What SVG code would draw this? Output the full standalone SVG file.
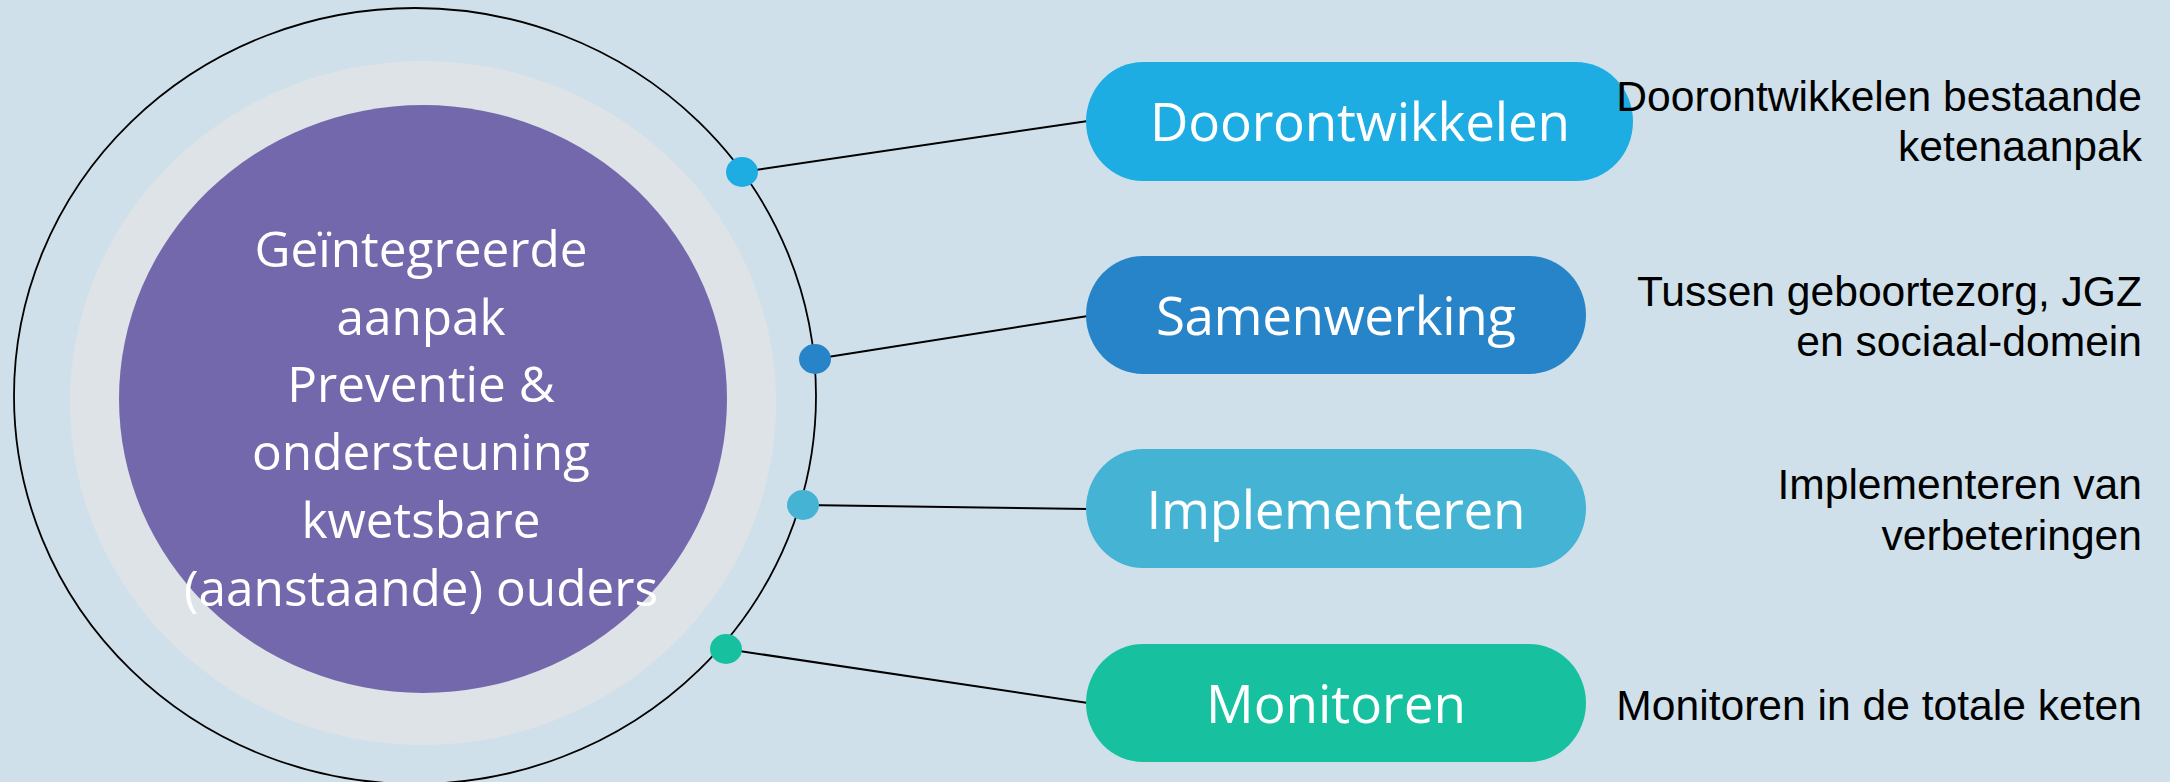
<svg xmlns="http://www.w3.org/2000/svg" width="2170" height="782" viewBox="0 0 2170 782">
<style>
.pill-text{font-family:"Open Sans","Noto Sans",sans-serif;font-size:53px;fill:#ffffff;text-anchor:middle}
.center-text{font-family:"Open Sans","Noto Sans",sans-serif;font-size:49.5px;fill:#ffffff;text-anchor:middle}
.desc{font-family:"Liberation Sans",Arial,sans-serif;font-size:42.6px;fill:#000000;text-anchor:end}
.conn{stroke:#000000;stroke-width:2;fill:none}
</style>
<rect x="0" y="0" width="2170" height="782" fill="#CFE0EA"/>
<g id="hub">
<ellipse cx="415" cy="396" rx="401" ry="388" fill="none" stroke="#000000" stroke-width="1.8"/>
<ellipse cx="423" cy="403" rx="353" ry="342" fill="#DEE3E7"/>
<ellipse cx="423" cy="399" rx="304" ry="294" fill="#7468AC"/>
<text class="center-text" x="421" y="267">Geïntegreerde</text>
<text class="center-text" x="421" y="335">aanpak</text>
<text class="center-text" x="421" y="402">Preventie &amp;</text>
<text class="center-text" x="421" y="470">ondersteuning</text>
<text class="center-text" x="421" y="538">kwetsbare</text>
<text class="center-text" x="421" y="606">(aanstaande) ouders</text>
</g>
<g id="connectors">
<line class="conn" x1="742" y1="172" x2="1088" y2="121"/>
<line class="conn" x1="815" y1="359" x2="1088" y2="316"/>
<line class="conn" x1="803" y1="505" x2="1088" y2="509"/>
<line class="conn" x1="726" y1="649" x2="1088" y2="703"/>
</g>
<g id="dots">
<ellipse cx="742" cy="172" rx="16" ry="15" fill="#1EADE3"/>
<ellipse cx="815" cy="359" rx="16" ry="15" fill="#2784C8"/>
<ellipse cx="803" cy="505" rx="16" ry="15" fill="#45B3D3"/>
<ellipse cx="726" cy="649" rx="16" ry="15" fill="#17C1A0"/>
</g>
<g id="node-doorontwikkelen">
<rect x="1086" y="62" width="547" height="119" rx="57" ry="59.5" fill="#1EADE3"/>
<text class="pill-text" x="1360" y="141" textLength="420">Doorontwikkelen</text>
</g>
<g id="node-samenwerking">
<rect x="1086" y="256" width="500" height="118" rx="57" ry="59" fill="#2784C8"/>
<text class="pill-text" x="1336" y="335" textLength="360">Samenwerking</text>
</g>
<g id="node-implementeren">
<rect x="1086" y="449" width="500" height="119" rx="57" ry="59.5" fill="#45B3D3"/>
<text class="pill-text" x="1336" y="529" textLength="379">Implementeren</text>
</g>
<g id="node-monitoren">
<rect x="1086" y="644" width="500" height="118" rx="57" ry="59" fill="#17C1A0"/>
<text class="pill-text" x="1336" y="723" textLength="260">Monitoren</text>
</g>
<g id="desc-doorontwikkelen">
<text class="desc" x="2142" y="111">Doorontwikkelen bestaande</text>
<text class="desc" x="2142" y="161">ketenaanpak</text>
</g>
<g id="desc-samenwerking">
<text class="desc" x="2142" y="306">Tussen geboortezorg, JGZ</text>
<text class="desc" x="2142" y="356">en sociaal-domein</text>
</g>
<g id="desc-implementeren">
<text class="desc" x="2142" y="499">Implementeren van</text>
<text class="desc" x="2142" y="550">verbeteringen</text>
</g>
<g id="desc-monitoren">
<text class="desc" x="2142" y="720">Monitoren in de totale keten</text>
</g>
</svg>
